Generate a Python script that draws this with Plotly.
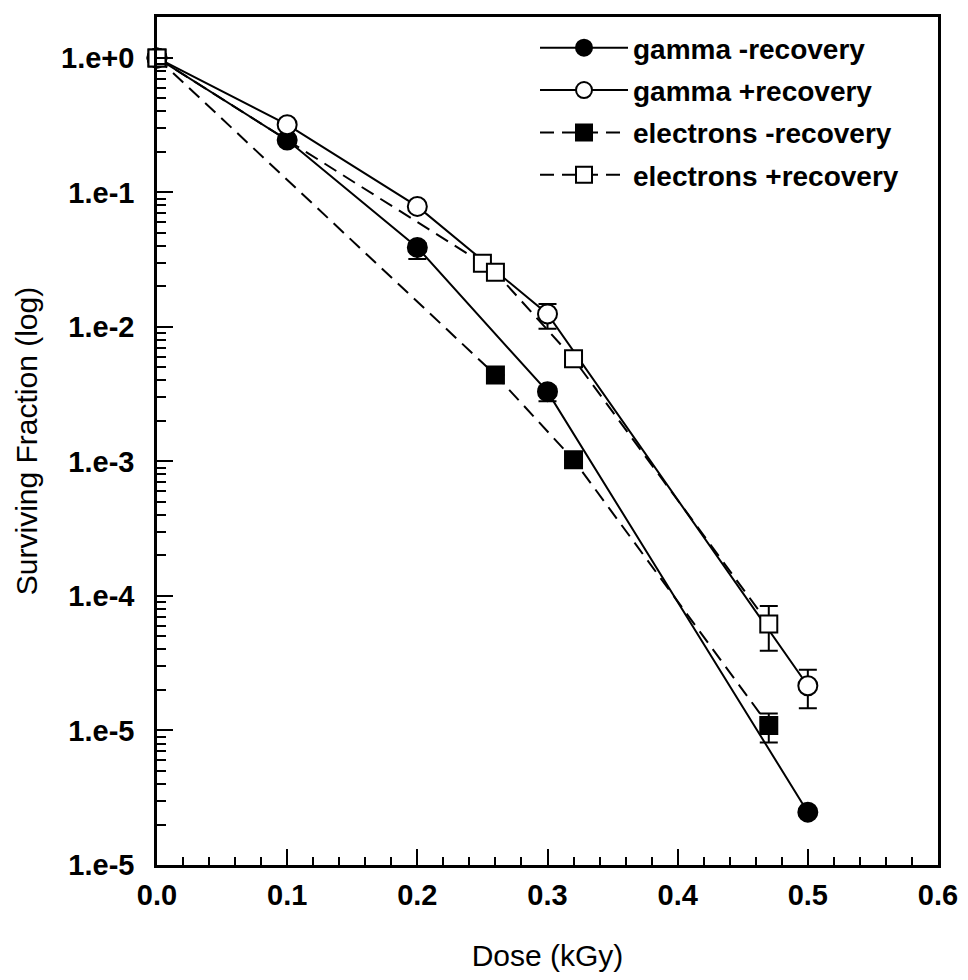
import plotly.graph_objects as go

# ---- data ----
dose_gamma = [0.0, 0.1, 0.2, 0.3, 0.5]
gamma_minus = [1.0, 0.245, 0.039, 0.0033, 2.47e-6]
gamma_minus_hi = [1.0, 0.245, 0.042, 0.0036, 2.6e-6]
gamma_minus_lo = [1.0, 0.245, 0.032, 0.0028, 2.3e-6]

gamma_plus = [1.0, 0.319, 0.0787, 0.0125, 2.15e-5]
gamma_plus_hi = [1.0, 0.319, 0.0787, 0.0148, 2.83e-5]
gamma_plus_lo = [1.0, 0.319, 0.0787, 0.0097, 1.46e-5]

dose_elec_minus = [0.0, 0.26, 0.32, 0.47]
elec_minus = [1.0, 0.0044, 0.00103, 1.09e-5]
elec_minus_hi = [1.0, 0.0044, 0.00103, 1.34e-5]
elec_minus_lo = [1.0, 0.0044, 0.00103, 8.15e-6]

dose_elec_plus = [0.0, 0.25, 0.26, 0.32, 0.47]
elec_plus = [1.0, 0.0298, 0.0255, 0.0058, 6.2e-5]
elec_plus_hi = [1.0, 0.0298, 0.0255, 0.0058, 8.43e-5]
elec_plus_lo = [1.0, 0.0298, 0.0255, 0.0058, 3.92e-5]

names = ["gamma -recovery", "gamma +recovery", "electrons -recovery", "electrons +recovery"]

y_tickvals = [1, 1e-1, 1e-2, 1e-3, 1e-4, 1e-5, 1e-6]
y_ticktext = ["1.e+0", "1.e-1", "1.e-2", "1.e-3", "1.e-4", "1.e-5", "1.e-5"]

FONT = "Liberation Sans, Arial, Helvetica, sans-serif"


def err(vals, hi, lo):
    return (dict(type="data", symmetric=False,
                 array=[h - v for h, v in zip(hi, vals)],
                 arrayminus=[v - l for v, l in zip(vals, lo)],
                 color="black", thickness=2, width=9))


series = [
    (dose_gamma, gamma_minus, gamma_minus_hi, gamma_minus_lo, "solid", "circle", "black"),
    (dose_gamma, gamma_plus, gamma_plus_hi, gamma_plus_lo, "solid", "circle", "white"),
    (dose_elec_minus, elec_minus, elec_minus_hi, elec_minus_lo, "14px,8px", "square", "black"),
    (dose_elec_plus, elec_plus, elec_plus_hi, elec_plus_lo, "14px,8px", "square", "white"),
]

fig = go.Figure()
for i, (name, (x, y, hi, lo, dash, sym, fill)) in enumerate(zip(names, series)):
    fig.add_trace(go.Scatter(
        x=x, y=y, name=name, mode="lines+markers", legendgroup=f"g{i}",
        line=dict(color="black", width=2, dash=dash),
        marker=dict(symbol=sym, size=19 if sym == "circle" else 17, color=fill,
                    line=dict(color="black", width=2)),
        error_y=err(y, hi, lo),
        cliponaxis=False,
    ))

minor_y = [m * 10 ** e for e in range(-6, 1) for m in range(2, 10) if m * 10 ** e < 2.0]

fig.update_layout(
    width=960, height=972,
    margin=dict(l=149, r=30, t=6, b=115),
    paper_bgcolor="white", plot_bgcolor="white",
    font=dict(family=FONT, color="black"),
    showlegend=True,
    legend=dict(
        x=0.484, y=0.993, xanchor="left", yanchor="top",
        font=dict(family=FONT, size=28, color="black", weight="bold"),
        bgcolor="rgba(0,0,0,0)", borderwidth=0,
        itemwidth=88, tracegroupgap=3,
    ),
)

fig.update_xaxes(
    range=[0, 0.6], dtick=0.1, tick0=0, tickformat=".1f",
    showgrid=False, zeroline=False,
    showline=True, linecolor="black", linewidth=2.5, mirror=True,
    ticks="inside", ticklen=16, tickwidth=2, tickcolor="black",
    tickfont=dict(family=FONT, size=29, color="black", weight="bold"),
    ticklabelstandoff=2,
    minor=dict(dtick=0.02, tick0=0, ticks="inside", ticklen=8, tickwidth=2, tickcolor="black"),
    title=dict(text="Dose (kGy)", font=dict(family=FONT, size=30, color="black"), standoff=36),
)

fig.update_yaxes(
    type="log", range=[-6, 0.304],
    tickmode="array", tickvals=y_tickvals, ticktext=y_ticktext,
    showgrid=False, zeroline=False,
    showline=True, linecolor="black", linewidth=2.5, mirror=True,
    ticks="inside", ticklen=16, tickwidth=2, tickcolor="black",
    tickfont=dict(family=FONT, size=29, color="black", weight="bold"),
    ticklabelstandoff=14,
    minor=dict(tickmode="array", tickvals=minor_y, ticks="inside", ticklen=9, tickwidth=2, tickcolor="black"),
    title=dict(text="Surviving Fraction (log)", font=dict(family=FONT, size=30, color="black"), standoff=15),
)

fig.write_html("out.html")
